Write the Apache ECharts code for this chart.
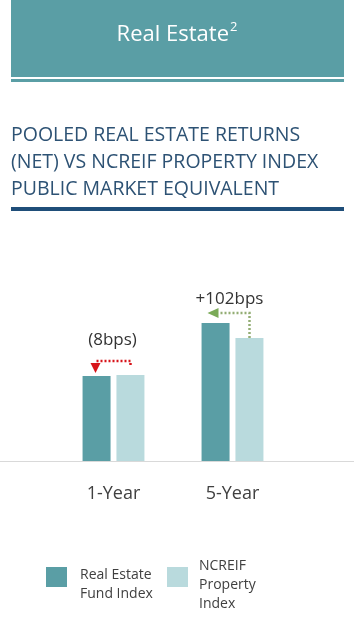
<!DOCTYPE html>
<html>
<head>
<meta charset="utf-8">
<script src="https://cdn.jsdelivr.net/npm/echarts@6/dist/echarts.min.js"></script>
<style>
  html, body { margin: 0; padding: 0; background: #fff; }
  #re { width: 354px; height: 630px; }
</style>
</head>
<body>
<div id="re"></div>
<script>
// data (bar heights in chart units)
const categories = ['1-Year', '5-Year'];
const fundValues = [8.5, 13.8];
const ncreifValues = [8.6, 12.3];
const diffLabels = ['(8bps)', '+102bps'];
const seriesNames = ['Real Estate Fund Index', 'NCREIF Property Index'];

const DARK = '#5a9ea5';
const LIGHT = '#b9dadd';
const FONT = 'Open Sans';

let chart = echarts.init(document.getElementById('re'));

// legend text sits a bit lower than the swatch, so lead with a spacer line
let legendRich = {
  s: { fontSize: 8, lineHeight: 16 },
  t: { fontFamily: FONT, fontSize: 14, color: '#404040', lineHeight: 19 }
};

let option = {
  animation: false,
  textStyle: { fontFamily: FONT },
  title: [
    {
      text: '{a|Real Estate}{b|2}',
      left: 'center',
      top: 21,
      padding: 0,
      textStyle: {
        fontWeight: 'normal',
        rich: {
          a: { fontFamily: FONT, fontSize: 22, fontWeight: 'normal', color: '#fff', lineHeight: 28 },
          b: { fontFamily: FONT, fontSize: 13, fontWeight: 'normal', color: '#fff', verticalAlign: 'top', lineHeight: 28, padding: [0, 0, 9, 1] }
        }
      }
    },
    {
      text: 'POOLED REAL ESTATE RETURNS\n(NET) VS NCREIF PROPERTY INDEX\nPUBLIC MARKET EQUIVALENT',
      left: 11,
      top: 122,
      padding: 0,
      textStyle: { fontFamily: FONT, fontSize: 19.5, fontWeight: 'normal', color: '#2d5274', lineHeight: 27 }
    }
  ],
  legend: [
    {
      data: [seriesNames[0]],
      icon: 'rect',
      left: 46,
      top: 554,
      padding: 0,
      itemWidth: 21,
      itemHeight: 20,
      formatter: () => '{s| }\n{t|Real Estate}\n{t|Fund Index}',
      textStyle: { padding: [0, 0, 0, 8], rich: legendRich }
    },
    {
      data: [seriesNames[1]],
      icon: 'rect',
      left: 167,
      top: 544.5,
      padding: 0,
      itemWidth: 21,
      itemHeight: 20,
      formatter: () => '{s| }\n{t|NCREIF}\n{t|Property}\n{t|Index}',
      textStyle: { padding: [0, 0, 0, 6], rich: legendRich }
    }
  ],
  grid: { left: 54, width: 238, top: 261, height: 200 },
  xAxis: {
    type: 'category',
    data: categories,
    axisLine: { show: false },
    axisTick: { show: false },
    axisLabel: { margin: 24, fontSize: 18, color: '#404040', fontFamily: FONT }
  },
  yAxis: {
    type: 'value',
    min: 0,
    max: 20,
    show: false
  },
  series: [
    { name: seriesNames[0], type: 'bar', data: fundValues, barWidth: 28, barGap: '21%', itemStyle: { color: DARK } },
    { name: seriesNames[1], type: 'bar', data: ncreifValues, barWidth: 28, itemStyle: { color: LIGHT } }
  ]
};
chart.setOption(option);

// header, rule lines and the difference arrows
function notes() {
  let g = [
    { type: 'rect', shape: { x: 11, y: 0, width: 333, height: 77 }, style: { fill: DARK }, z: -1 },
    { type: 'rect', shape: { x: 11, y: 79, width: 333, height: 3 }, style: { fill: DARK }, z: -1 },
    { type: 'rect', shape: { x: 11, y: 207, width: 333, height: 4 }, style: { fill: '#1f4e79' } }
  ];
  let base = chart.convertToPixel({ yAxisIndex: 0 }, 0);
  g.push({ type: 'line', shape: { x1: 0, y1: base + 0.5, x2: 354, y2: base + 0.5 }, style: { stroke: '#d9d9d9', lineWidth: 1 } });

  categories.forEach((c, i) => {
    let cx = chart.convertToPixel({ xAxisIndex: 0 }, i);
    let xd = cx - 17, xl = cx + 17;
    let yd = chart.convertToPixel({ yAxisIndex: 0 }, fundValues[i]);
    let yl = chart.convertToPixel({ yAxisIndex: 0 }, ncreifValues[i]);
    if (fundValues[i] < ncreifValues[i]) {
      let red = '#d7141a';
      let y = Math.min(yd, yl) - 14;
      g.push({ type: 'polyline', shape: { points: [[xl, y + 4], [xl, y], [xd - 1, y]] },
        style: { stroke: red, lineWidth: 2.5, lineDash: [2, 2], fill: null } });
      g.push({ type: 'polygon', shape: { points: [[xd - 6, y + 2], [xd + 4, y + 2], [xd - 1, yd - 3]] }, style: { fill: red } });
      g.push({ type: 'text', style: { text: diffLabels[i], x: cx - 1, y: y - 21, align: 'center', verticalAlign: 'middle',
        fontFamily: FONT, fontSize: 17, fill: '#333' } });
    } else {
      let green = '#93ad74';
      let y = yd - 10;
      g.push({ type: 'polyline', shape: { points: [[xl, yl], [xl, y], [xd + 3, y]] },
        style: { stroke: green, lineWidth: 2.5, lineDash: [2, 2], fill: null } });
      g.push({ type: 'polygon', shape: { points: [[xd + 3, y - 5], [xd + 3, y + 5], [xd - 8, y]] }, style: { fill: '#7aaa57' } });
      g.push({ type: 'text', style: { text: diffLabels[i], x: cx - 3, y: y - 14, align: 'center', verticalAlign: 'middle',
        fontFamily: FONT, fontSize: 17, fill: '#333' } });
    }
  });
  chart.setOption({ graphic: g });
}
notes();

window.addEventListener('resize', function () {
  chart.resize();
});
</script>
</body>
</html>
